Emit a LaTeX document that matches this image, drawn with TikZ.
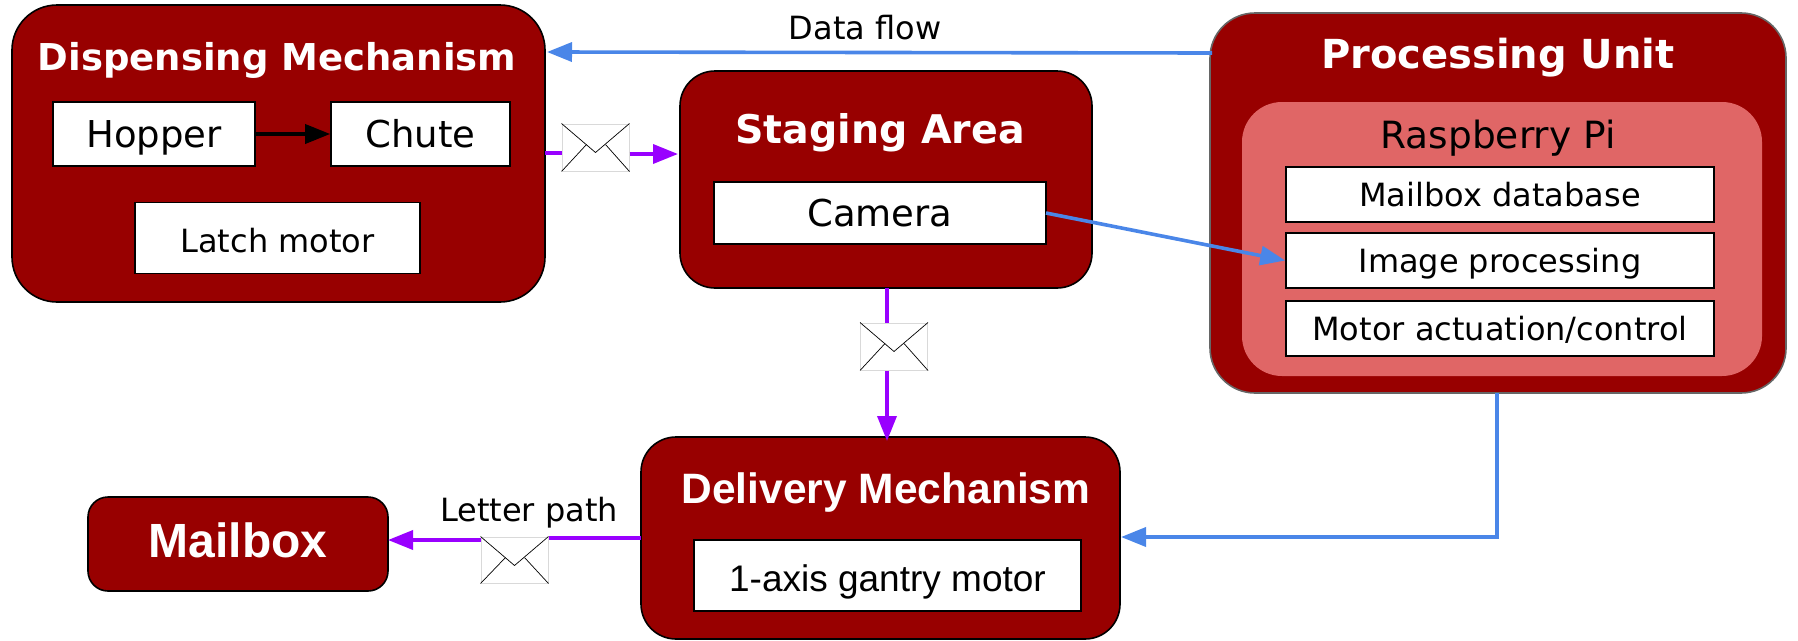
\documentclass[tikz,border=0pt]{standalone}
\usepackage{fontspec}
\setmainfont{DejaVu Sans}
\newfontfamily\arialf{Liberation Sans}
\usetikzlibrary{arrows.meta}
\definecolor{dred}{HTML}{980000}
\definecolor{pinkb}{HTML}{E06666}
\definecolor{purp}{HTML}{9900FF}
\definecolor{blu}{HTML}{4A86E8}
\newcommand{\fs}[1]{\fontsize{#1pt}{#1pt}\selectfont}
\tikzset{
  redbox/.style={draw=black,line width=1.6pt,fill=dred,rounded corners=#1,inner sep=0pt},
  redbox/.default=35pt,
  capsize/.style={font=\fs{#1},text height={0.73*#1pt},text depth=0pt},
  boldsize/.style={font=\fs{#1}\bfseries,text height={0.73*#1pt},text depth=0pt},
  arialsize/.style={font=\fs{#1}\arialf,text height={0.72*#1pt},text depth=0pt},
  arialbold/.style={font=\fs{#1}\bfseries\arialf,text height={0.72*#1pt},text depth=0pt},
  whitebox/.style={draw=black,line width=1.6pt,fill=white,inner sep=0pt,text=black},
  titletext/.style={text=white,inner sep=0pt},
  freelabel/.style={inner sep=0pt},
  envbox/.style={draw=black!15,line width=1pt,fill=white,inner sep=0pt},
  envline/.style={draw=black,line width=0.7pt},
  purpflow/.style={draw=purp,line width=3.6pt},
  bluflow/.style={draw=blu,line width=3.6pt},
  tip/.style={-{Triangle[length=25pt,width=19pt]}},
}
\begin{document}
\begin{tikzpicture}[x=1pt,y=-1pt]
\useasboundingbox (0,0) rectangle (1798,640);
% main boxes
\node[redbox=45pt,minimum width=533pt,minimum height=297pt] (disp) at (278.5,153.5) {};
\node[redbox=35pt,minimum width=412pt,minimum height=217pt] (stag) at (886,179.5) {};
\node[redbox=45pt,draw=black!60,minimum width=576pt,minimum height=380pt] (proc) at (1498,203) {};
\node[redbox=35pt,minimum width=479pt,minimum height=202pt] (deli) at (880.5,538) {};
\node[redbox=20pt,minimum width=300pt,minimum height=94pt] (mbox) at (238,544) {};
\node[draw=none,fill=pinkb,rounded corners=40pt,inner sep=0pt,minimum width=520pt,minimum height=274pt] (rasp) at (1502,239) {};
% titles
\node[titletext,boldsize=37] (t1) at (277,57) {Dispensing Mechanism};
\node[titletext,boldsize=39.5] (t2) at (880,129) {Staging Area};
\node[titletext,boldsize=40] (t3) at (1498,53.5) {Processing Unit};
\node[titletext,arialbold=42.5] (t4) at (886,488) {Delivery Mechanism};
\node[titletext,arialbold=48] (t5) at (238,540) {Mailbox};
\node[freelabel,capsize=37.5] (t6) at (1498,135) {Raspberry Pi};
% white boxes
\node[whitebox,capsize=37,minimum width=202pt,minimum height=64pt] (hop) at (154,134) {Hopper};
\node[whitebox,capsize=37,minimum width=179pt,minimum height=64pt] (chu) at (420.5,134) {Chute};
\node[whitebox,capsize=32,text height=28pt,minimum width=285pt,minimum height=71pt] (lat) at (277.5,238) {Latch motor};
\node[whitebox,capsize=37,minimum width=332pt,minimum height=62pt] (cam) at (880,213) {Camera};
\node[whitebox,capsize=32,minimum width=428pt,minimum height=55pt] (mdb) at (1500,194.5) {Mailbox database};
\node[whitebox,capsize=32,minimum width=428pt,minimum height=55pt] (img) at (1500,260.5) {Image processing};
\node[whitebox,capsize=32,minimum width=428pt,minimum height=55pt] (mot) at (1500,328.5) {Motor actuation/control};
\node[whitebox,arialsize=37,text height=32pt,minimum width=387pt,minimum height=71pt] (gan) at (887.5,575.5) {1-axis gantry motor};
% free labels
\node[freelabel,capsize=32] (lb1) at (865,27.5) {Data flow};
\node[freelabel,capsize=32] (lb2) at (529,509.5) {Letter path};
% envelopes
\node[envbox,minimum width=67pt,minimum height=47pt] (e1) at (595.5,147.5) {};
\node[envbox,minimum width=67pt,minimum height=47pt] (e2) at (894,346.5) {};
\node[envbox,minimum width=67pt,minimum height=46pt] (e3) at (514.5,560) {};
\foreach \e in {e1,e2,e3}{
  \draw[envline] (\e.north west) -- ([xshift=34pt,yshift=-29pt]\e.north west) -- (\e.north east);
  \draw[envline] (\e.south west) -- ([xshift=25pt,yshift=-21pt]\e.north west);
  \draw[envline] (\e.south east) -- ([xshift=-24pt,yshift=-21pt]\e.north east);
}
% free ends
\coordinate (a1) at (545,153);
\coordinate (a2) at (678,154);
\coordinate (b1) at (1212,53);
\coordinate (b2) at (547,52);
\coordinate (c1) at (887,288);
\coordinate (c2) at (887,441);
\coordinate (d1) at (641,538);
\coordinate (d2) at (388,540);
\coordinate (f1) at (1497,393);
\coordinate (f2) at (1497,537);
\coordinate (f3) at (1121,537);
\coordinate (g1) at (1046,213);
% connectors
\draw[line width=3.6pt,tip] (hop.east) -- (chu.west);
\draw[purpflow] (a1) -- (e1.west |- a1);
\draw[purpflow,tip] (e1.east |- a2) -- (a2);
\draw[purpflow] (c1) -- (e2.north -| c1);
\draw[purpflow,tip] (e2.south -| c2) -- (c2);
\draw[purpflow] (d1) -- (e3.east |- d1);
\draw[purpflow,tip] (e3.west |- d2) -- (d2);
\draw[bluflow,tip] (b1) -- (b2);
\draw[bluflow,tip] (g1) -- (img.west);
\draw[bluflow,tip] (f1) -- (f2) -- (f3);
\end{tikzpicture}
\end{document}
